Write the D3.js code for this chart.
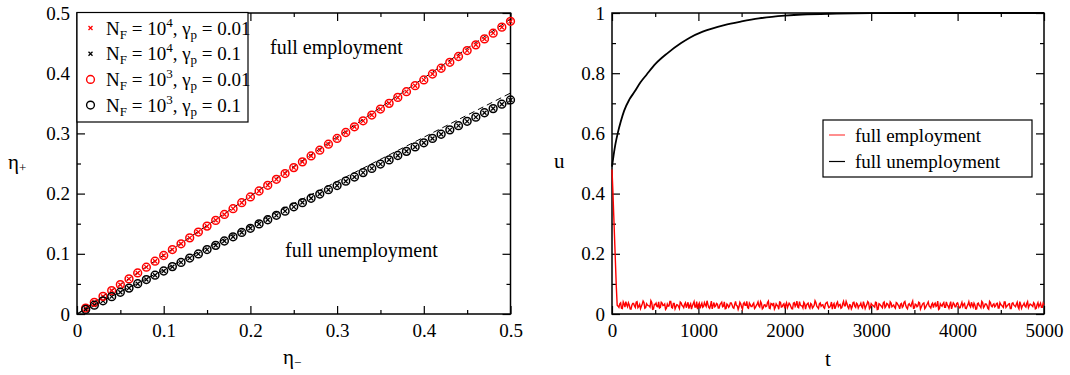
<!DOCTYPE html>
<html>
<head>
<meta charset="utf-8">
<script src="https://cdn.jsdelivr.net/npm/d3@7/dist/d3.min.js"></script>
<style>
  body { margin: 0; background: #fff; }
  svg { display: block; font-family: 'Liberation Serif', 'Times New Roman', serif; }
</style>
</head>
<body>
<div class="chart"></div>
<script>
// ---- data: left panel (eta- vs eta+) ----
var etaMinus = [0.01,0.02,0.03,0.04,0.05,0.06,0.07,0.08,0.09,0.10,
                0.11,0.12,0.13,0.14,0.15,0.16,0.17,0.18,0.19,0.20,
                0.21,0.22,0.23,0.24,0.25,0.26,0.27,0.28,0.29,0.30,
                0.31,0.32,0.33,0.34,0.35,0.36,0.37,0.38,0.39,0.40,
                0.41,0.42,0.43,0.44,0.45,0.46,0.47,0.48,0.49,0.50];
// N_F = 10^4, gamma_p = 0.01 (red crosses)
var redCross = [0.0098,0.0195,0.0292,0.0390,0.0487,0.0584,0.0681,0.0778,0.0876,0.0973,
                0.1070,0.1167,0.1264,0.1362,0.1459,0.1556,0.1653,0.1750,0.1848,0.1945,
                0.2042,0.2139,0.2236,0.2334,0.2431,0.2528,0.2625,0.2722,0.2820,0.2917,
                0.3014,0.3111,0.3208,0.3306,0.3403,0.3500,0.3597,0.3694,0.3792,0.3889,
                0.3986,0.4083,0.4180,0.4278,0.4375,0.4472,0.4569,0.4666,0.4764,0.4861];
// N_F = 10^4, gamma_p = 0.1 (black crosses)
var blackCross = [0.0074,0.0147,0.0218,0.0289,0.0360,0.0431,0.0502,0.0573,0.0644,0.0715,
                  0.0786,0.0857,0.0928,0.0999,0.1070,0.1141,0.1212,0.1283,0.1354,0.1425,
                  0.1496,0.1567,0.1638,0.1709,0.1780,0.1851,0.1922,0.1993,0.2064,0.2135,
                  0.2206,0.2277,0.2348,0.2419,0.2490,0.2561,0.2632,0.2703,0.2774,0.2845,
                  0.2916,0.2987,0.3058,0.3129,0.3200,0.3271,0.3342,0.3413,0.3484,0.3555];
// N_F = 10^3, gamma_p = 0.01 (red circles)
var redCircle = [0.0099,0.0194,0.0293,0.0389,0.0488,0.0583,0.0682,0.0777,0.0877,0.0972,
                 0.1071,0.1166,0.1265,0.1361,0.1460,0.1555,0.1654,0.1749,0.1849,0.1944,
                 0.2043,0.2138,0.2237,0.2333,0.2432,0.2527,0.2626,0.2721,0.2821,0.2916,
                 0.3015,0.3110,0.3209,0.3305,0.3404,0.3499,0.3598,0.3693,0.3793,0.3888,
                 0.3987,0.4082,0.4181,0.4277,0.4376,0.4471,0.4570,0.4665,0.4765,0.4862];
// N_F = 10^3, gamma_p = 0.1 (black circles)
var blackCircle = [0.0075,0.0146,0.0219,0.0288,0.0361,0.0430,0.0503,0.0572,0.0645,0.0714,
                   0.0787,0.0856,0.0929,0.0998,0.1071,0.1140,0.1213,0.1282,0.1355,0.1424,
                   0.1497,0.1566,0.1639,0.1708,0.1781,0.1850,0.1923,0.1992,0.2065,0.2134,
                   0.2207,0.2276,0.2349,0.2418,0.2491,0.2560,0.2633,0.2702,0.2775,0.2844,
                   0.2917,0.2986,0.3059,0.3128,0.3201,0.3270,0.3343,0.3412,0.3485,0.3556];
// dashed reference lines
var dashHigh = [[0, 0], [0.5, 0.490]];
var dashLow  = [[0, 0], [0.5, 0.367]];

var leftXTicks = [0, 0.1, 0.2, 0.3, 0.4, 0.5];
var leftXMinor = [0.05, 0.15, 0.25, 0.35, 0.45];
var leftYTicks = [0, 0.1, 0.2, 0.3, 0.4, 0.5];
var leftYMinor = [0.05, 0.15, 0.25, 0.35, 0.45];

// ---- data: right panel (u vs t) ----
var unempT = [0, 20, 40, 70, 100, 140, 200, 260, 330, 400, 500, 640, 800, 900, 1050,
              1300, 1500, 1700, 2000, 2200, 2600, 3000, 3500, 4000, 5000];
var unempU = [0.49, 0.53, 0.565, 0.605, 0.638, 0.675, 0.712, 0.738, 0.77, 0.795, 0.83, 0.866, 0.9, 0.918, 0.938,
              0.96, 0.972, 0.982, 0.991, 0.995, 0.998, 0.9995, 1.0, 1.0, 1.0];

var empDropT = [0, 10, 20, 30, 40, 50];
var empDropU = [0.48, 0.41, 0.33, 0.25, 0.17, 0.09];
var empNoiseStep = 20;
// samples at t = 60, 80, 100, ...
var empNoiseA = [
  0.029,0.022,0.037,0.018,0.033,0.041,0.024,0.030,0.016,0.035,0.027,0.039,0.021,0.032,0.026,0.043,0.019,0.034,0.028,0.023,
  0.038,0.017,0.031,0.025,0.040,0.022,0.036,0.029,0.015,0.033,0.027,0.042,0.020,0.035,0.024,0.030,0.018,0.037,0.026,0.032,
  0.021,0.039,0.028,0.016,0.034,0.023,0.041,0.030,0.019,0.036,0.025,0.031,0.044,0.022,0.029,0.017,0.038,0.027,0.033,0.020,
  0.035,0.024,0.040,0.018,0.030,0.026,0.037,0.021,0.032,0.028,0.015,0.039,0.023,0.034,0.029,0.042,0.019,0.031,0.025,0.036,
  0.022,0.033,0.027,0.041,0.017,0.030,0.024,0.038,0.020,0.035,0.029,0.016,0.034,0.026,0.040,0.023,0.031,0.019,0.037,0.028,
  0.032,0.018,0.036,0.025,0.043,0.021,0.030,0.027,0.039,0.016,0.033,0.024,0.035,0.020,0.029,0.038,0.022,0.034,0.026,0.031,
  0.019,0.037,0.028,0.023,0.040,0.030,0.017,0.035,0.025,0.032,0.021,0.042,0.027,0.034,0.018,0.030,0.024,0.039,0.022,0.033,
  0.027,0.036,0.020,0.031,0.026,0.041,0.018,0.034,0.029,0.023,0.038,0.016,0.032,0.025,0.037,0.021,0.035,0.028,0.040,0.024,
  0.030,0.019,0.036,0.026,0.033,0.022,0.039,0.028,0.017,0.034,0.025,0.043,0.020,0.031,0.027,0.037,0.023,0.035,0.018,0.029,
  0.040,0.024,0.032,0.021,0.036,0.028,0.015,0.034,0.026,0.038,0.022,0.030,0.019,0.041,0.027,0.033,0.024,0.037,0.020,0.031,
  0.025,0.035,0.018,0.032,0.028,0.039,0.023,0.030,0.017,0.036,0.026,0.042,0.021,0.033,0.029,0.016,0.038,0.024,0.034,0.027,
  0.036,0.020,0.031,0.025,0.040,0.022,0.029,0.034,0.018,0.037,0.027,0.032,0.023,0.041,0.019,0.030,0.026,0.035,0.021,0.033,
  0.028,0.038,0.017,0.031,0.024,0.036,0.022,0.030];
// samples at t = 70, 90, 110, ...
var empNoiseB = [
  0.026,0.034,0.019,0.040,0.023,0.031,0.037,0.017,0.029,0.035,0.022,0.041,0.025,0.018,0.033,0.038,0.021,0.030,0.027,0.044,
  0.016,0.032,0.036,0.024,0.020,0.039,0.028,0.033,0.019,0.026,0.042,0.022,0.035,0.017,0.031,0.025,0.040,0.029,0.021,0.037,
  0.030,0.018,0.034,0.027,0.041,0.023,0.016,0.036,0.029,0.022,0.038,0.025,0.032,0.019,0.043,0.028,0.024,0.035,0.020,0.031,
  0.039,0.026,0.017,0.033,0.022,0.037,0.030,0.019,0.042,0.027,0.024,0.034,0.016,0.038,0.029,0.021,0.036,0.025,0.032,0.018,
  0.028,0.040,0.023,0.035,0.020,0.031,0.026,0.043,0.018,0.033,0.037,0.022,0.029,0.016,0.039,0.024,0.034,0.030,0.021,0.036,
  0.025,0.017,0.038,0.031,0.023,0.041,0.027,0.020,0.034,0.029,0.036,0.019,0.032,0.024,0.044,0.026,0.018,0.037,0.030,0.022,
  0.033,0.039,0.021,0.028,0.016,0.035,0.025,0.040,0.030,0.019,0.034,0.027,0.042,0.023,0.031,0.017,0.038,0.026,0.036,0.020,
  0.029,0.024,0.041,0.018,0.032,0.037,0.022,0.030,0.026,0.039,0.015,0.034,0.028,0.021,0.040,0.025,0.033,0.019,0.036,0.027,
  0.023,0.038,0.030,0.017,0.035,0.026,0.042,0.021,0.031,0.028,0.036,0.019,0.033,0.024,0.039,0.016,0.030,0.037,0.022,0.034,
  0.027,0.020,0.036,0.032,0.025,0.043,0.018,0.029,0.034,0.022,0.040,0.026,0.031,0.017,0.037,0.024,0.035,0.028,0.021,0.039,
  0.032,0.019,0.026,0.041,0.023,0.030,0.036,0.016,0.034,0.028,0.021,0.038,0.025,0.033,0.019,0.042,0.027,0.031,0.024,0.035,
  0.020,0.037,0.029,0.022,0.040,0.026,0.033,0.018,0.035,0.030,0.024,0.039,0.017,0.032,0.027,0.036,0.023,0.041,0.028,0.031,
  0.025,0.034,0.019,0.038,0.030,0.022,0.036];

var rightXTicks = [0, 1000, 2000, 3000, 4000, 5000];
var rightXMinor = [500, 1500, 2500, 3500, 4500];
var rightYTicks = [0, 0.2, 0.4, 0.6, 0.8, 1];
var rightYMinor = [0.1, 0.3, 0.5, 0.7, 0.9];

// ---- layout ----
var W = 1070, H = 375;
var FONT = "'Liberation Serif', 'Times New Roman', serif";
var svg = d3.select('.chart').append('svg').attr('width', W).attr('height', H);

var xL = d3.scaleLinear().domain([0, 0.5]).range([77, 510.5]);
var yL = d3.scaleLinear().domain([0, 0.5]).range([314, 13]);
var xR = d3.scaleLinear().domain([0, 5000]).range([612, 1044]);
var yR = d3.scaleLinear().domain([0, 1]).range([314, 13]);

function drawAxes(x, y, xt, xm, yt, ym) {
    var x0 = x.range()[0], x1 = x.range()[1], y0 = y.range()[0], y1 = y.range()[1];
    var fmt = function(d){ return String(d); };
    // bottom
    var gb = svg.append('g').attr('transform', 'translate(0,' + y0 + ')');
    gb.call(d3.axisBottom(x).tickValues(xt).tickSize(-8).tickPadding(10).tickFormat(fmt));
    gb.append('g').call(d3.axisBottom(x).tickValues(xm).tickSize(-4).tickFormat(''));
    // top
    var gt = svg.append('g').attr('transform', 'translate(0,' + y1 + ')');
    gt.call(d3.axisTop(x).tickValues(xt).tickSize(-8).tickFormat(''));
    gt.append('g').call(d3.axisTop(x).tickValues(xm).tickSize(-4).tickFormat(''));
    // left
    var gl = svg.append('g').attr('transform', 'translate(' + x0 + ',0)');
    gl.call(d3.axisLeft(y).tickValues(yt).tickSize(-8).tickPadding(7).tickFormat(fmt));
    gl.append('g').call(d3.axisLeft(y).tickValues(ym).tickSize(-4).tickFormat(''));
    // right
    var gr = svg.append('g').attr('transform', 'translate(' + x1 + ',0)');
    gr.call(d3.axisRight(y).tickValues(yt).tickSize(-8).tickFormat(''));
    gr.append('g').call(d3.axisRight(y).tickValues(ym).tickSize(-4).tickFormat(''));

    [gb, gt, gl, gr].forEach(function(g){
        g.attr('font-family', FONT).attr('font-size', 19);
        g.selectAll('.domain').remove();
        g.selectAll('.tick line').attr('stroke', '#000').attr('stroke-width', 1.2);
        g.selectAll('.tick text').attr('fill', '#000')
            .style('font-family', FONT).style('font-size', '19px');
    });

    svg.append('rect')
        .attr('x', x0).attr('y', y1)
        .attr('width', x1 - x0).attr('height', y0 - y1)
        .attr('fill', 'none').attr('stroke', '#000').attr('stroke-width', 1.5);
}

// ================= left panel =================
drawAxes(xL, yL, leftXTicks, leftXMinor, leftYTicks, leftYMinor);

var dashLine = d3.line().x(function(d){ return xL(d[0]); }).y(function(d){ return yL(d[1]); });
[dashHigh, dashLow].forEach(function(seg){
    svg.append('path').attr('d', dashLine(seg))
        .attr('fill', 'none').attr('stroke', '#000').attr('stroke-width', 1)
        .attr('stroke-dasharray', '6,4');
});

function crossPath(cx, cy, s) {
    return 'M' + (cx - s) + ',' + (cy - s) + 'L' + (cx + s) + ',' + (cy + s) +
           'M' + (cx - s) + ',' + (cy + s) + 'L' + (cx + s) + ',' + (cy - s);
}

function drawCrosses(vals, color) {
    svg.append('g').selectAll('path')
        .data(vals).enter().append('path')
        .attr('d', function(d, i){ return crossPath(xL(etaMinus[i]), yL(d), 2); })
        .attr('stroke', color).attr('stroke-width', 1.3).attr('fill', 'none');
}
function drawCircles(vals, color) {
    svg.append('g').selectAll('circle')
        .data(vals).enter().append('circle')
        .attr('cx', function(d, i){ return xL(etaMinus[i]); })
        .attr('cy', function(d){ return yL(d); })
        .attr('r', 3.9)
        .attr('fill', 'none').attr('stroke', color).attr('stroke-width', 1.5);
}
drawCrosses(redCross, '#ff0000');
drawCrosses(blackCross, '#000');
drawCircles(redCircle, '#ff0000');
drawCircles(blackCircle, '#000');

// region labels
svg.append('text').attr('x', 270).attr('y', 54).attr('font-size', 20).text('full employment');
svg.append('text').attr('x', 285).attr('y', 257).attr('font-size', 20).text('full unemployment');

// legend (left)
svg.append('rect').attr('x', 77).attr('y', 12.5).attr('width', 171).attr('height', 109.5)
    .attr('fill', '#fff').attr('stroke', '#000').attr('stroke-width', 1.2);
var legRows = [
    {pow: '4', gam: '0.01', color: '#ff0000', mark: 'x'},
    {pow: '4', gam: '0.1',  color: '#000',    mark: 'x'},
    {pow: '3', gam: '0.01', color: '#ff0000', mark: 'o'},
    {pow: '3', gam: '0.1',  color: '#000',    mark: 'o'}
];
legRows.forEach(function(r, i){
    var cy = 28 + i * 25.7;
    if (r.mark === 'x') {
        svg.append('path').attr('d', crossPath(90.5, cy, 2))
            .attr('stroke', r.color).attr('stroke-width', 1.3).attr('fill', 'none');
    } else {
        svg.append('circle').attr('cx', 90.5).attr('cy', cy).attr('r', 3.9)
            .attr('fill', 'none').attr('stroke', r.color).attr('stroke-width', 1.4);
    }
    var t = svg.append('text').attr('x', 106).attr('y', cy + 6.5).attr('font-size', 19);
    t.append('tspan').text('N');
    t.append('tspan').attr('font-size', 13).attr('dy', 4).text('F');
    t.append('tspan').attr('dy', -4).text(' = 10');
    t.append('tspan').attr('font-size', 13).attr('dy', -8).text(r.pow);
    t.append('tspan').attr('dy', 8).text(', \u03b3');
    t.append('tspan').attr('font-size', 13).attr('dy', 4).text('p');
    t.append('tspan').attr('dy', -4).text(' = ' + r.gam);
});

// axis titles (left)
var yt = svg.append('text').attr('x', 8).attr('y', 169).attr('font-size', 21);
yt.append('tspan').text('\u03b7');
yt.append('tspan').attr('font-size', 13).attr('dy', 3).text('+');
var xtL = svg.append('text').attr('x', 283).attr('y', 364).attr('font-size', 21);
xtL.append('tspan').text('\u03b7');
xtL.append('tspan').attr('font-size', 13).attr('dy', 3).text('\u2212');

// ================= right panel =================
drawAxes(xR, yR, rightXTicks, rightXMinor, rightYTicks, rightYMinor);

var empPts = empDropT.map(function(t, i){ return [t, empDropU[i]]; });
var noisePts = [];
empNoiseA.forEach(function(u, i){ noisePts.push([60 + i * empNoiseStep, u]); });
empNoiseB.forEach(function(u, i){ noisePts.push([70 + i * empNoiseStep, u]); });
noisePts.sort(function(a, b){ return a[0] - b[0]; });
empPts = empPts.concat(noisePts);

var lineR = d3.line().x(function(d){ return xR(d[0]); }).y(function(d){ return yR(d[1]); });
svg.append('path').attr('d', lineR(empPts))
    .attr('fill', 'none').attr('stroke', '#ff0000').attr('stroke-width', 1.4);

var unempPts = unempT.map(function(t, i){ return [t, unempU[i]]; });
svg.append('path').attr('d', lineR.curve(d3.curveMonotoneX)(unempPts))
    .attr('fill', 'none').attr('stroke', '#000').attr('stroke-width', 1.8);

// legend (right)
svg.append('rect').attr('x', 823).attr('y', 120).attr('width', 209).attr('height', 57)
    .attr('fill', '#fff').attr('stroke', '#000').attr('stroke-width', 1.2);
[['full employment', '#ff4444'], ['full unemployment', '#000']].forEach(function(r, i){
    var cy = 135 + i * 26.5;
    svg.append('line').attr('x1', 829).attr('x2', 845).attr('y1', cy).attr('y2', cy)
        .attr('stroke', r[1]).attr('stroke-width', 1.2);
    svg.append('text').attr('x', 855).attr('y', cy + 6.5).attr('font-size', 19).text(r[0]);
});

// axis titles (right)
svg.append('text').attr('x', 554).attr('y', 168).attr('font-size', 21).text('u');
svg.append('text').attr('x', 825).attr('y', 366).attr('font-size', 21).text('t');
</script>
</body>
</html>
